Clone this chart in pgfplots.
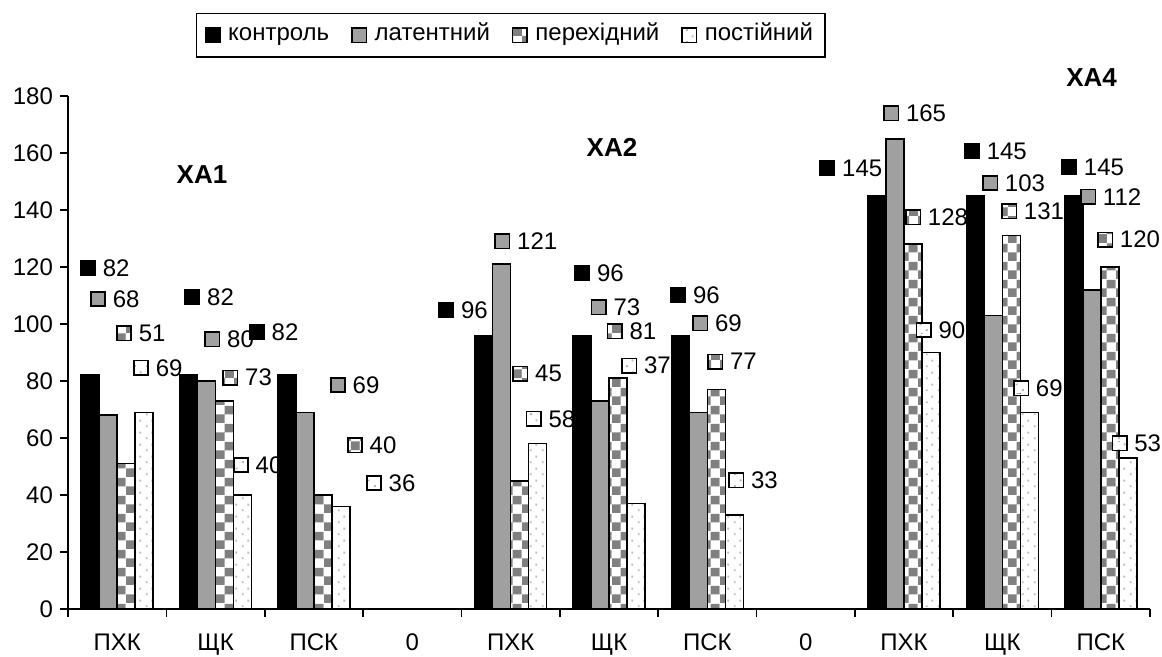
\documentclass[border=0pt]{standalone}
\usepackage{fontspec}
\setmainfont{Liberation Sans}
\usepackage{pgfplots}
\pgfplotsset{compat=1.18}
\usepackage{pgfplotstable}
\usetikzlibrary{patterns}

\definecolor{latgray}{RGB}{160,160,160}
\definecolor{chkgray}{RGB}{128,128,128}
\definecolor{dotgray}{RGB}{185,185,185}

\pgfdeclarepatterninherentlycolored{checkgray}{\pgfpointorigin}{\pgfqpoint{9pt}{9pt}}{\pgfqpoint{9pt}{9pt}}{%
  \pgfsetfillcolor{white}%
  \pgfpathrectangle{\pgfpointorigin}{\pgfqpoint{9pt}{9pt}}\pgfusepath{fill}%
  \pgfsetfillcolor{chkgray}%
  \pgfpathrectangle{\pgfpointorigin}{\pgfqpoint{4.5pt}{4.5pt}}%
  \pgfpathrectangle{\pgfqpoint{4.5pt}{4.5pt}}{\pgfqpoint{4.5pt}{4.5pt}}\pgfusepath{fill}%
}
\pgfdeclarepatterninherentlycolored{dotwhite}{\pgfpointorigin}{\pgfqpoint{6pt}{6pt}}{\pgfqpoint{6pt}{6pt}}{%
  \pgfsetfillcolor{white}%
  \pgfpathrectangle{\pgfpointorigin}{\pgfqpoint{6pt}{6pt}}\pgfusepath{fill}%
  \pgfsetfillcolor{dotgray}%
  \pgfpathrectangle{\pgfqpoint{1pt}{1pt}}{\pgfqpoint{1pt}{1pt}}%
  \pgfpathrectangle{\pgfqpoint{4pt}{4pt}}{\pgfqpoint{1pt}{1pt}}\pgfusepath{fill}%
}

\pgfplotstableread{
x   c    l    p    s
0   82   68   51   69
1   82   80   73   40
2   82   69   40   36
4   96   121  45   58
5   96   73   81   37
6   96   69   77   33
8   145  165  128  90
9   145  103  131  69
10  145  112  120  53
}\data

\pgfplotsset{
  sqlegend/.style={legend image code/.code={\draw[##1, line width=0.7pt] (0pt,-3.6pt) rectangle (7.2pt,3.6pt); \path (9pt,0pt);}},
  lbl/.style={forget plot, only marks, mark=square*, mark size=3.6pt,
    nodes near coords, point meta=explicit symbolic,
    every node near coord/.append style={anchor=west, xshift=6pt, inner sep=1pt,
      font=\fontsize{12}{14}\selectfont, text=black}},
}

\begin{document}
\begin{tikzpicture}
\useasboundingbox (-34pt,-24pt) rectangle (547pt,304.5pt);
\begin{axis}[
  at={(0pt,0pt)}, anchor=south west,
  scale only axis, width=541pt, height=256.5pt,
  xmin=-0.5, xmax=10.5, ymin=0, ymax=180,
  clip=false,
  axis lines=left,
  axis line style={-, line width=0.8pt, black},
  tick style={black, line width=0.8pt},
  tick align=outside, major tick length=4pt,
  ytick={0,20,...,180},
  xtick={-0.5,0.5,...,10.5},
  x tick label as interval,
  xticklabels={ПХК,ЩК,ПСК,0,ПХК,ЩК,ПСК,0,ПХК,ЩК,ПСК},
  xticklabel style={yshift=-5pt},
  /pgf/number format/assume math mode=true,
  tick label style={font=\fontsize{12}{14}\selectfont},
  legend style={at={(0.1183,1.1618)}, anchor=north west, legend columns=4,
    draw=black, line width=0.7pt, font=\fontsize{12}{14}\selectfont,
    inner xsep=4pt, inner ysep=4pt,
    nodes={text depth=0.22em, text height=0.75em},
    /tikz/every even column/.append style={column sep=9pt}},
  legend cell align=left,
]
\addplot[ybar, bar width=9pt, bar shift=-13.5pt, fill=black, draw=black, line width=0.8pt, sqlegend] table[x=x,y=c]{\data};
\addplot[ybar, bar width=9pt, bar shift=-4.5pt, fill=latgray, draw=black, line width=0.8pt, sqlegend] table[x=x,y=l]{\data};
\addplot[ybar, bar width=9pt, bar shift=4.5pt, pattern=checkgray, draw=black, line width=0.8pt, sqlegend] table[x=x,y=p]{\data};
\addplot[ybar, bar width=9pt, bar shift=13.5pt, pattern=dotwhite, draw=black, line width=0.8pt, sqlegend] table[x=x,y=s]{\data};
\legend{контроль, латентний, перехідний, постійний}

\addplot[lbl, mark options={fill=black, draw=black, line width=0.8pt}] coordinates {
(-0.297,119.6) [82] (0.765,109.3) [82] (1.42,97.2) [82]
(3.345,104.9) [96] (4.729,117.9) [96] (5.704,110) [96]
(7.22,154.7) [145] (8.69,160.7) [145] (9.678,155.1) [145]};
\addplot[lbl, mark options={fill=latgray, draw=black, line width=0.8pt}] coordinates {
(-0.195,108.8) [68] (0.968,94.6) [80] (2.244,78.6) [69]
(3.916,129) [121] (4.896,105.8) [73] (5.928,100.2) [69]
(7.869,173.9) [165] (8.875,149.5) [103] (9.871,144.6) [112]};
\addplot[lbl, mark options={pattern=checkgray, draw=black, line width=0.8pt}] coordinates {
(0.069,96.8) [51] (1.151,81.2) [73] (2.417,57.5) [40]
(4.099,82.6) [45] (5.059,97.4) [81] (6.08,86.8) [77]
(8.092,137.4) [128] (9.068,139.6) [131] (10.044,129.6) [120]};
\addplot[lbl, mark options={pattern=dotwhite, draw=black, line width=0.8pt}] coordinates {
(0.242,84.6) [69] (1.258,50.5) [40] (2.61,44.2) [36]
(4.236,66.7) [58] (5.206,85.4) [37] (6.294,45.1) [33]
(8.2,97.9) [90] (9.19,77.5) [69] (10.19,58.2) [53]};

\node[font=\bfseries\fontsize{13}{15}\selectfont] at (axis cs:0.862,152.6) {ХА1};
\node[font=\bfseries\fontsize{13}{15}\selectfont] at (axis cs:5.03,161.8) {ХА2};
\node[font=\bfseries\fontsize{13}{15}\selectfont] at (axis cs:9.906,186.3) {ХА4};
\end{axis}
\end{tikzpicture}
\end{document}
